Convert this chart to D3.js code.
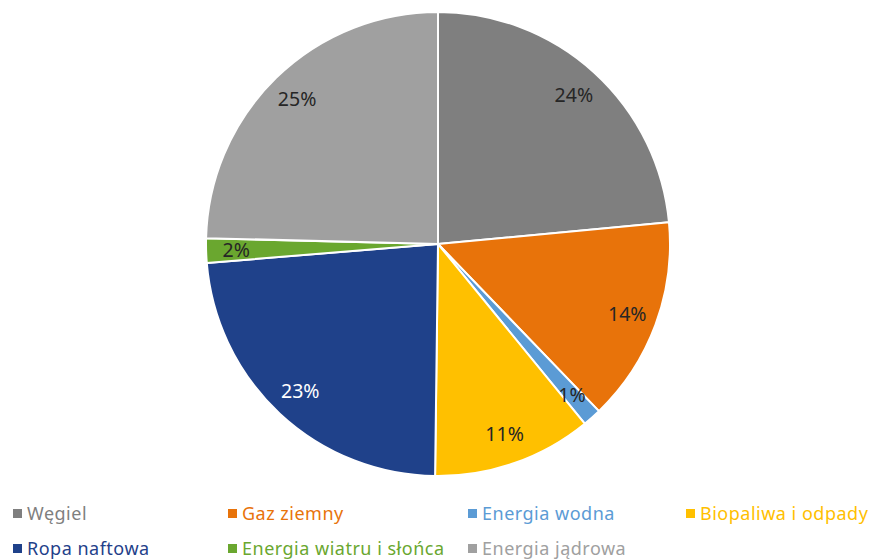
<!DOCTYPE html>
<html><head><meta charset="utf-8">
<script src="https://cdn.jsdelivr.net/npm/d3@7"></script>
<style>body{margin:0;background:#fff}svg{display:block}</style>
</head><body>
<script>
const categories = ["Węgiel","Gaz ziemny","Energia wodna","Biopaliwa i odpady","Ropa naftowa","Energia wiatru i słońca","Energia jądrowa"];
const values = [23.5, 14.3, 1.3, 11.1, 23.5, 1.7, 24.6];
const labels = ["24%","14%","1%","11%","23%","2%","25%"];
const colors = ["#7f7f7f","#e8730a","#5b9bd5","#ffc000","#1f418a","#6aa72f","#a0a0a0"];
const labelColors = ["#262626","#262626","#262626","#262626","#ffffff","#262626","#262626"];
const legendTextColors = ["#7f7f7f","#e8730a","#5b9bd5","#ffc000","#1f418a","#6aa72f","#a0a0a0"];

const W = 871, H = 560;
const svg = d3.select("body").append("svg").attr("width", W).attr("height", H);
const cx = 438, cy = 244, R = 232;
const font = "'Noto Sans', sans-serif";

const pie = d3.pie().sort(null).value(d => d)(values);
const arc = d3.arc().innerRadius(0).outerRadius(R);
const lab = d3.arc().innerRadius(R*0.87).outerRadius(R*0.87);
const g = svg.append("g").attr("transform", `translate(${cx},${cy})`);
g.selectAll("path").data(pie).join("path")
  .attr("d", arc).attr("fill", (d,i) => colors[i])
  .attr("stroke", "#fff").attr("stroke-width", 2).attr("stroke-linejoin","round");
g.selectAll("text").data(pie).join("text")
  .attr("transform", d => `translate(${lab.centroid(d)})`)
  .attr("text-anchor","middle").attr("dy","0.35em")
  .style("font-family", font).style("font-size","19.5px")
  .attr("fill", (d,i) => labelColors[i])
  .text((d,i) => labels[i]);

const legX = [13, 228, 468, 686], legY = [514, 549];
const leg = svg.append("g");
categories.forEach((c, i) => {
  const col = i % 4, row = Math.floor(i / 4);
  const x = legX[col], y = legY[row];
  leg.append("rect").attr("x", x).attr("y", y-5).attr("width", 9).attr("height", 9).attr("fill", colors[i]);
  leg.append("text").attr("x", x+14).attr("y", y).attr("dy","0.35em")
    .style("font-family", font).style("font-size","18px").style("letter-spacing","0.5px")
    .attr("fill", legendTextColors[i]).text(c);
});
</script>
</body></html>
